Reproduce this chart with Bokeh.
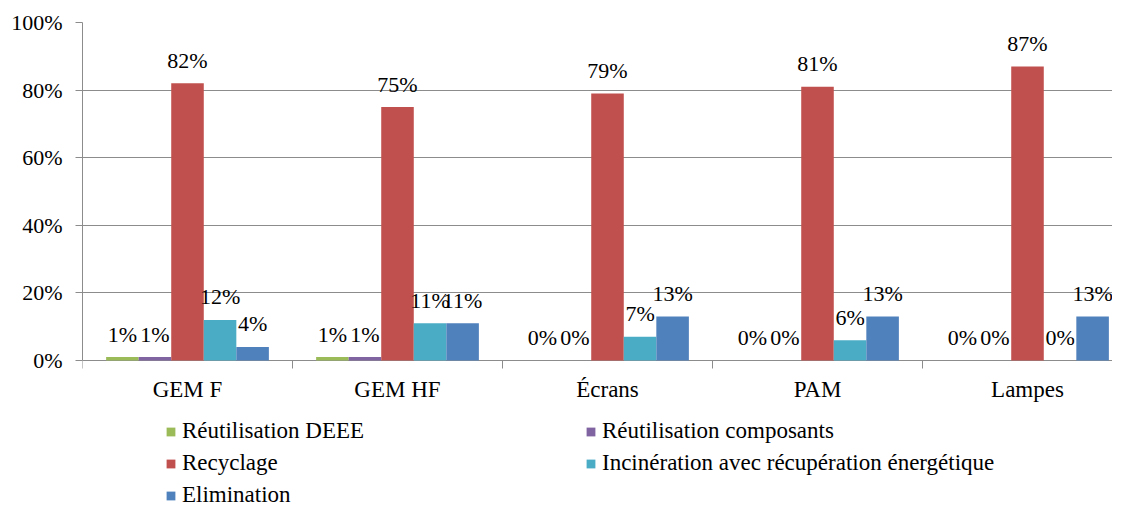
import math
from bokeh.plotting import figure
from bokeh.models import (ColumnDataSource, Range1d, FixedTicker, NumeralTickFormatter,
                          Legend, LegendItem)
from bokeh.core.properties import value
from bokeh.embed import file_html
from bokeh.resources import INLINE

categories = ["GEM F", "GEM HF", "Écrans", "PAM", "Lampes"]
series_names = ["Réutilisation DEEE", "Réutilisation composants", "Recyclage",
                "Incinération avec récupération énergétique", "Elimination"]
reutil_deee = [1, 1, 0, 0, 0]
reutil_comp = [1, 1, 0, 0, 0]
recyclage = [82, 75, 79, 81, 87]
incineration = [12, 11, 7, 6, 0]
elimination = [4, 11, 13, 13, 13]
y_ticks = [0, 20, 40, 60, 80, 100]

series_values = [reutil_deee, reutil_comp, recyclage, incineration, elimination]
colors = ["#9BBB59", "#8064A2", "#C0504D", "#4BACC6", "#4F81BD"]
offsets = [-0.31, -0.155, 0.0, 0.155, 0.31]
bar_w = 0.155
FONT = "Liberation Serif"
GRID = "#8c8c8c"

W, H = 1112, 510
LEFT, TOP, ZERO_Y, CAT_W, SPAN = 82, 22, 360, 210, 338
p = figure(width=W, height=H, output_backend="svg", toolbar_location=None,
           x_range=Range1d(0, (W - LEFT) / CAT_W),
           y_range=Range1d(-(H - ZERO_Y) / SPAN, 1.0),
           x_axis_type=None,
           min_border_left=LEFT, min_border_right=0, min_border_top=TOP, min_border_bottom=0)
p.outline_line_color = None

items = []
for name, vals, col, off in zip(series_names, series_values, colors, offsets):
    xs = [i + 0.5 + off for i in range(len(categories))]
    ys = [v / 100 for v in vals]
    src = ColumnDataSource(dict(x=xs, top=ys, lab=[f"{v}%" for v in vals]))
    r = p.vbar(x="x", top="top", width=bar_w, bottom=0, source=src,
               fill_color=col, line_color=None)
    p.text(x="x", y="top", text="lab", source=src, text_align="center",
           text_baseline="alphabetic", y_offset=-23, text_font_size="22px",
           text_font=value(FONT), text_color="black")
    items.append(LegendItem(label=name, renderers=[r]))

# category axis (drawn at the 0% line)
n = len(categories)
p.ray(x=list(range(n + 1)), y=[0] * (n + 1), length=8, length_units="screen",
      angle=-math.pi / 2, line_color=GRID, line_width=1)
csrc = ColumnDataSource(dict(x=[i + 0.5 for i in range(n)], y=[0] * n, t=categories))
p.text(x="x", y="y", text="t", source=csrc, text_align="center", text_baseline="top",
       y_offset=16, text_font=value(FONT), text_font_size="23px", text_color="black")

p.yaxis.ticker = FixedTicker(ticks=[t / 100 for t in y_ticks], minor_ticks=[])
p.yaxis.bounds = (0, 1)
p.yaxis.formatter = NumeralTickFormatter(format="0%")
p.yaxis.major_tick_out = 7
p.yaxis.major_tick_in = 0
p.yaxis.minor_tick_line_color = None
p.yaxis.major_tick_line_color = GRID
p.yaxis.axis_line_color = GRID
p.yaxis.major_label_standoff = 13
p.yaxis.major_label_text_font = FONT
p.yaxis.major_label_text_font_size = "22px"
p.yaxis.major_label_text_color = "black"

p.ygrid.grid_line_color = GRID
p.ygrid.grid_line_width = 1

legend = Legend(items=items, orientation="horizontal", ncols=2,
                location=(165 - LEFT, 2), padding=0, margin=0, spacing=6,
                glyph_width=11, glyph_height=11, label_standoff=6,
                label_width=397, label_height=24,
                label_text_font=FONT, label_text_font_size="23px",
                label_text_color="black",
                border_line_color=None, background_fill_alpha=0)
p.add_layout(legend, "center")

open("out.html", "w").write(file_html(p, INLINE))
